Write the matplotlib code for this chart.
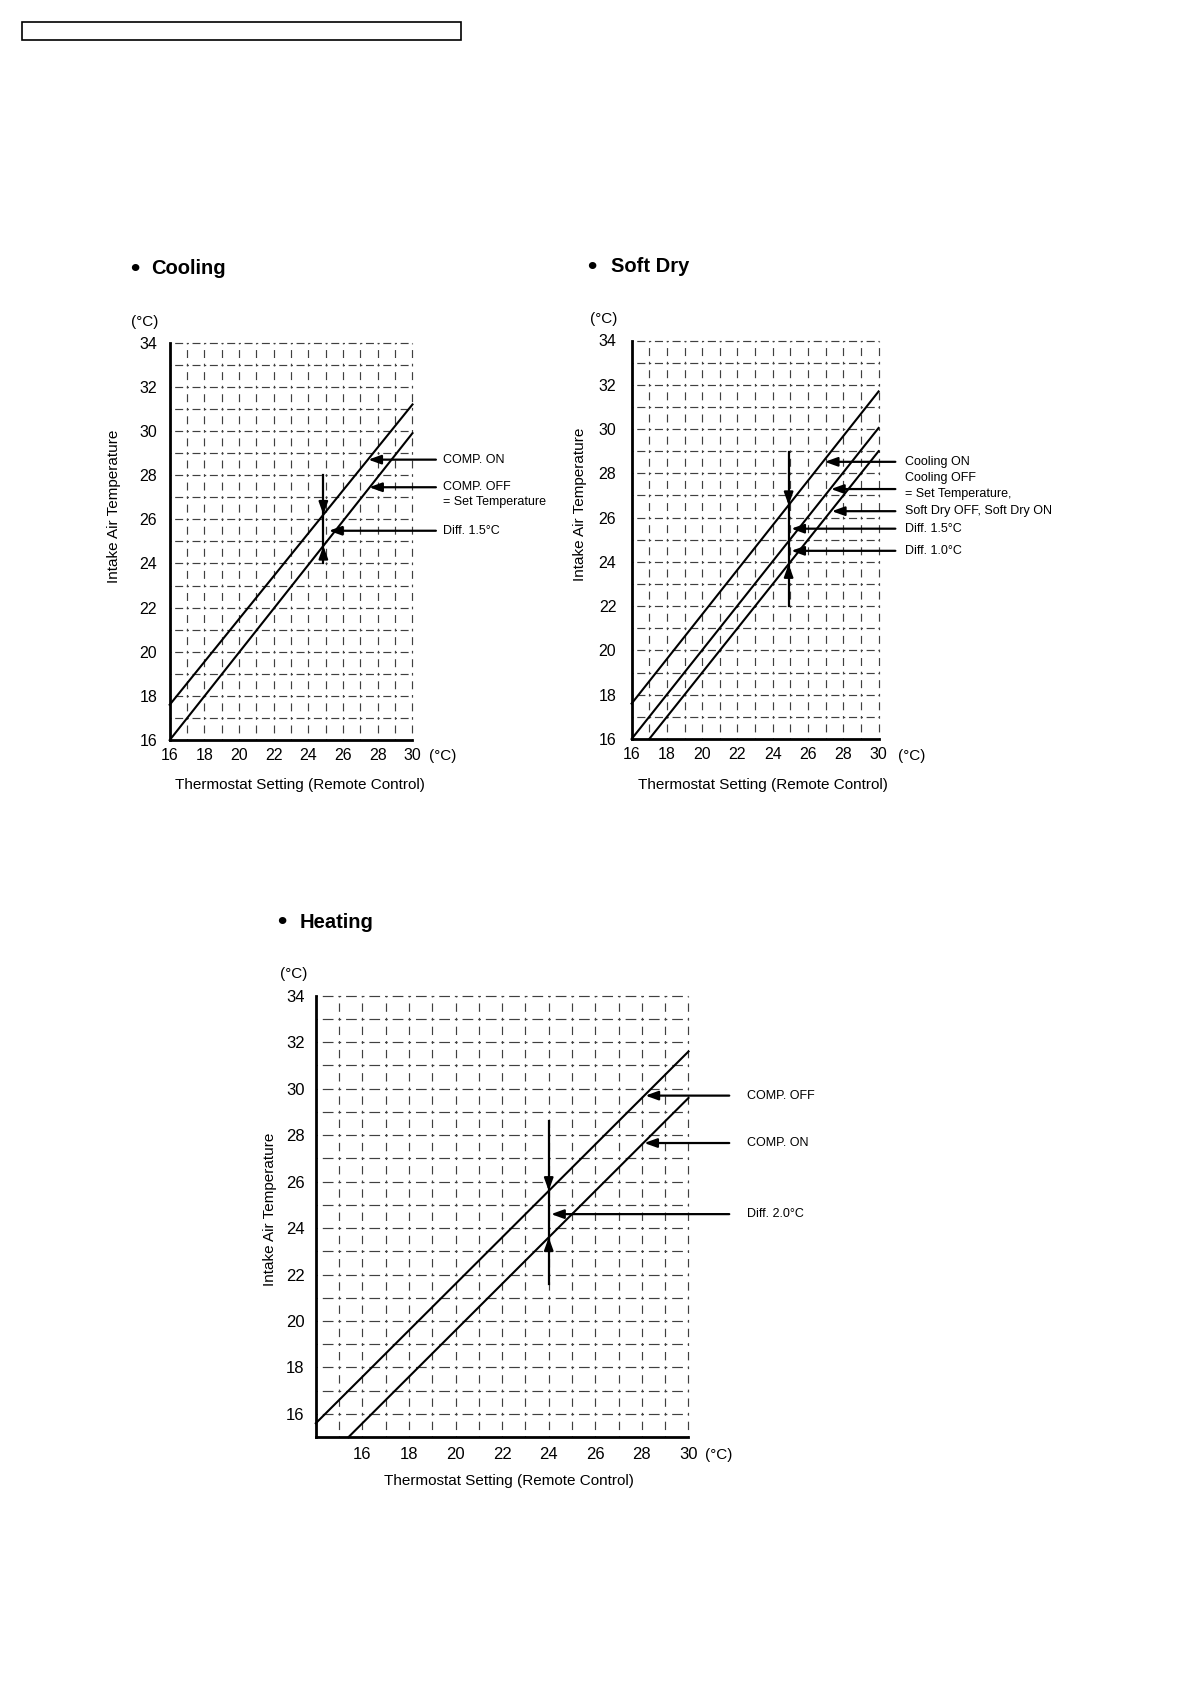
import numpy as np
import matplotlib
matplotlib.use('Agg')
import matplotlib.pyplot as plt
from matplotlib.patches import Rectangle

plt.rcParams['font.family'] = ['Liberation Sans', 'DejaVu Sans']
plt.rcParams['lines.scale_dashes'] = False

# ---- Cooling ----
cool_x = [16, 30]
cool_on = [17.6, 31.2]          # COMP. ON line
cool_off = [16.0, 29.9]         # COMP. OFF = set temperature
cool_vx = 24.86
cool_vy = [24.0, 28.0]
cool_arrow_y = [28.7, 27.45, 25.48]
cool_arrow_tip = [27.45, 27.5, 25.18]
cool_texts = ['COMP. ON', 'COMP. OFF', '= Set Temperature', 'Diff. 1.5°C']
cool_text_y = [28.7, 27.45, 26.8, 25.48]

# ---- Soft Dry ----
dry_x = [16, 30]
dry_cool_on = [17.6, 31.7]
dry_cool_off = [16.0, 30.05]
dry_soft_x = [17.0, 30]
dry_soft = [16.0, 29.0]
dry_vx = 24.9
dry_vy = [22.0, 28.96]
dry_arrow_y = [28.52, 27.29, 26.29, 25.5, 24.5]
dry_arrow_tip = [26.95, 27.3, 27.35, 25.05, 25.05]
dry_texts = ['Cooling ON', 'Cooling OFF', '= Set Temperature,',
             'Soft Dry OFF, Soft Dry ON', 'Diff. 1.5°C', 'Diff. 1.0°C']
dry_text_y = [28.52, 27.79, 27.07, 26.29, 25.5, 24.5]

# ---- Heating ----
heat_off_x = [14, 30]
heat_off = [15.6, 31.6]         # COMP. OFF line
heat_on_x = [15.4, 30]
heat_on = [15.0, 29.6]          # COMP. ON line
heat_vx = 24.0
heat_vy = [21.6, 28.6]
heat_arrow_y = [29.7, 27.66, 24.6]
heat_arrow_tip = [28.15, 28.1, 24.1]
heat_texts = ['COMP. OFF', 'COMP. ON', 'Diff. 2.0°C']
heat_text_y = [29.7, 27.66, 24.6]

W, H = 1190, 1684
fig = plt.figure(figsize=(W / 100, H / 100), dpi=100)
fig.add_artist(Rectangle((21.5 / W, 1 - 39.7 / H), 439 / W, 17.5 / H,
                         transform=fig.transFigure, fill=False, lw=1.2, color='black'))

ARROW = dict(arrowstyle='-|>,head_length=0.75,head_width=0.27', color='black',
             lw=1.6, shrinkA=0, shrinkB=0, mutation_scale=10)
GRID_COLOR = '#404040'


def make_axes(rect_px, xlim, ylim, xticks, yticks, tsize, ypad, xpad):
    l, t, r, b = rect_px
    ax = fig.add_axes([l / W, 1 - b / H, (r - l) / W, (b - t) / H])
    ax.set_xlim(*xlim)
    ax.set_ylim(*ylim)
    ax.set_xticks(xticks)
    ax.set_yticks(yticks)
    ax.tick_params(axis='y', length=0, pad=ypad, labelsize=tsize)
    ax.tick_params(axis='x', length=0, pad=xpad, labelsize=tsize)
    for s in ['top', 'right']:
        ax.spines[s].set_visible(False)
    for s in ['left', 'bottom']:
        ax.spines[s].set_linewidth(2.0)
        ax.spines[s].set_zorder(5)
    ax.set_facecolor('none')
    return ax


def draw_grid(ax):
    x0, x1 = ax.get_xlim()
    y0, y1 = ax.get_ylim()
    p0 = ax.transData.transform((x0, y0))
    p1 = ax.transData.transform((x0 + 1, y0 + 1))
    cw = (p1[0] - p0[0]) * 72 / fig.dpi
    ch = (p1[1] - p0[1]) * 72 / fig.dpi

    # one long dash centred in each cell, a short stub across each crossing
    def style(c, mid, stub):
        gap = (1 - mid - stub) / 2
        return ((mid + gap + stub / 2) * c, (mid * c, gap * c, stub * c, gap * c))

    for x in np.arange(x0 + 1, x1 + 0.5):
        ax.plot([x, x], [y0, y1], color=GRID_COLOR, lw=0.85,
                ls=style(ch, 0.36, 0.12), clip_on=False, zorder=1)
    for y in np.arange(y0 + 1, y1 + 0.5):
        ax.plot([x0, x1], [y, y], color=GRID_COLOR, lw=0.85,
                ls=style(cw, 0.46, 0.12), clip_on=False, zorder=1)


def vertical_arrow(ax, vx, vy, upper, lower):
    ax.plot([vx, vx], vy, color='black', lw=1.6, clip_on=False, zorder=4)
    tip_down = np.interp(vx, upper[0], upper[1])
    tip_up = np.interp(vx, lower[0], lower[1])
    ax.annotate('', xy=(vx, tip_down), xytext=(vx, tip_down + 0.6),
                arrowprops=ARROW, annotation_clip=False)
    ax.annotate('', xy=(vx, tip_up), xytext=(vx, tip_up - 0.6),
                arrowprops=ARROW, annotation_clip=False)


def side_arrows(ax, ys, tips, tail):
    for y, tip in zip(ys, tips):
        ax.annotate('', xy=(tip, y), xytext=(tail, y), arrowprops=ARROW,
                    annotation_clip=False, zorder=4)


def labels(ax, title, tpos, bullet_x, text_x, unit_top, unit_right, xlab, ylab):
    ax.text(bullet_x, tpos, '•', fontsize=19, fontweight='bold', ha='left',
            va='center', clip_on=False)
    ax.text(text_x, tpos, title, fontsize=14.5, fontweight='bold', ha='left',
            va='center', clip_on=False)
    ax.text(*unit_top, '(°C)', fontsize=11, ha='center', va='center', clip_on=False)
    ax.text(*unit_right, '(°C)', fontsize=11, ha='center', va='center', clip_on=False)
    ax.text(*xlab, 'Thermostat Setting (Remote Control)', fontsize=11,
            ha='center', va='center', clip_on=False)
    ax.text(*ylab, 'Intake Air Temperature', fontsize=11, rotation=90,
            ha='center', va='center', clip_on=False)


# Cooling
ax1 = make_axes((169.7, 342.6, 412.5, 740.1), (16, 30), (16, 34),
                range(16, 31, 2), range(16, 35, 2), 11.5, 9, 6)
draw_grid(ax1)
ax1.plot(cool_x, cool_on, color='black', lw=1.5, clip_on=False, zorder=3)
ax1.plot(cool_x, cool_off, color='black', lw=1.5, clip_on=False, zorder=3)
vertical_arrow(ax1, cool_vx, cool_vy, (cool_x, cool_on), (cool_x, cool_off))
side_arrows(ax1, cool_arrow_y, cool_arrow_tip, 31.35)
for t, y in zip(cool_texts, cool_text_y):
    ax1.text(31.74, y, t, fontsize=9, ha='left', va='center', clip_on=False)
labels(ax1, 'Cooling', 37.35, 13.72, 14.93, (14.57, 34.95), (31.76, 15.27),
       (23.5, 13.95), (12.8, 26.6))

# Soft Dry
ax2 = make_axes((631.6, 340.5, 878.6, 739.0), (16, 30), (16, 34),
                range(16, 31, 2), range(16, 35, 2), 11.5, 11, 6)
draw_grid(ax2)
ax2.plot(dry_x, dry_cool_on, color='black', lw=1.5, clip_on=False, zorder=3)
ax2.plot(dry_x, dry_cool_off, color='black', lw=1.5, clip_on=False, zorder=3)
ax2.plot(dry_soft_x, dry_soft, color='black', lw=1.5, clip_on=False, zorder=3)
vertical_arrow(ax2, dry_vx, dry_vy, (dry_x, dry_cool_on), (dry_soft_x, dry_soft))
side_arrows(ax2, dry_arrow_y, dry_arrow_tip, 30.95)
for t, y in zip(dry_texts, dry_text_y):
    ax2.text(31.52, y, t, fontsize=9, ha='left', va='center', clip_on=False)
labels(ax2, 'Soft Dry', 37.34, 13.5, 14.85, (14.4, 34.97), (31.86, 15.22),
       (23.42, 13.9), (13.08, 26.6))

# Heating
ax3 = make_axes((315.8, 995.7, 688.5, 1437.2), (14, 30), (15, 34),
                range(16, 31, 2), range(16, 35, 2), 12, 8, 7)
draw_grid(ax3)
ax3.plot(heat_off_x, heat_off, color='black', lw=1.5, clip_on=False, zorder=3)
ax3.plot(heat_on_x, heat_on, color='black', lw=1.5, clip_on=False, zorder=3)
vertical_arrow(ax3, heat_vx, heat_vy, (heat_off_x, heat_off), (heat_on_x, heat_on))
side_arrows(ax3, heat_arrow_y, heat_arrow_tip, 31.75)
for t, y in zip(heat_texts, heat_text_y):
    ax3.text(32.52, y, t, fontsize=9, ha='left', va='center', clip_on=False)
labels(ax3, 'Heating', 37.16, 12.36, 13.3, (13.03, 34.93), (31.31, 14.25),
       (22.3, 13.1), (12.02, 24.82))

fig.savefig('out.png', dpi=100)
